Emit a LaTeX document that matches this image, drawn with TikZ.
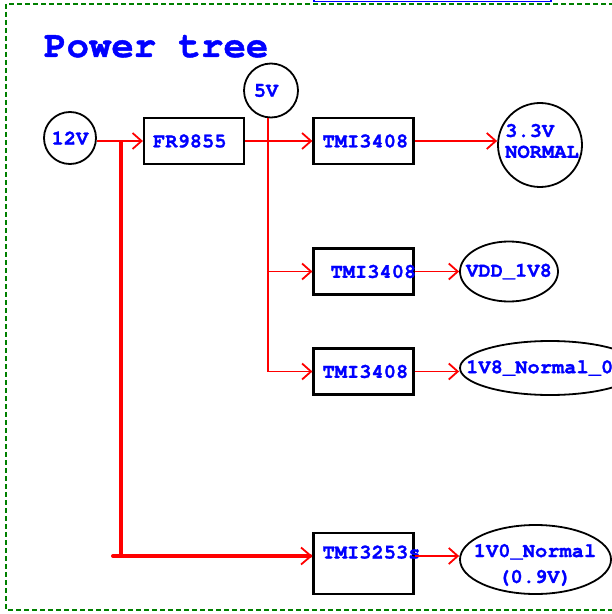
\documentclass[tikz,border=0pt]{standalone}
\usepackage{fontspec}
\setmonofont{texgyrecursor}[Extension=.otf, UprightFont=*-regular, BoldFont=*-bold, BoldFeatures={FakeBold=1.2}]
\usetikzlibrary{arrows.meta,shapes.geometric,calc}
\definecolor{dgreen}{RGB}{0,128,0}
\begin{document}
\begin{tikzpicture}[x=1bp,y=-1bp,
  lbl/.style={font=\ttfamily\bfseries\fontsize{20.5}{21}\selectfont, text=blue, inner sep=0pt},
  titlefont/.style={font=\ttfamily\bfseries\fontsize{37.5}{40}\selectfont, text=blue, inner sep=0pt},
  box/.style={lbl, draw=black, line width=2.2bp, minimum width=100bp, minimum height=46bp, text width=82bp, align=left},
  src/.style={lbl, draw=black, circle, line width=1.8bp},
  ell/.style={draw=black, ellipse, line width=1.8bp, inner sep=0pt},
  wire/.style={draw=red, line width=1.8bp},
  arr/.style={wire, -{Straight Barb[length=9bp,width=16bp]}},
  thickarr/.style={draw=red, line width=4bp, line cap=round, -{Straight Barb[length=10bp,width=17bp,line width=1.8bp]}},
]
\useasboundingbox (0,0) rectangle (612,614);
\begin{scope}
\clip (0,0) rectangle (612,614);
\draw[dgreen, line width=1.3bp, dash pattern=on 5bp off 3bp] (6,4) rectangle (680,610);
\draw[blue, line width=1.2bp] (314,-20) rectangle (551,1.5);

\node[titlefont, anchor=base west] (title) at (44,57) {Power tree};

\node[src, minimum size=52bp] (v12) at (70,138) {12V};
\node[box] (fr) at (194,141) {FR9855};
\node[src, minimum size=54bp] (v5) at (271,90.5) {5V\kern10bp};
\node[box] (b1) at (363.5,141) {TMI3408};
\node[ell, circle, minimum size=84bp] (c33) at (540,145) {};
\node[lbl, anchor=west, align=left] (t33) at (505,141) {3.3V\\NORMAL};
\node[box] (b2) at (363.5,271.5) {\hspace*{8bp}TMI3408};
\node[ell, minimum width=98bp, minimum height=60bp] (e2) at (509,271.5) {};
\node[lbl] (t2) at (e2) {VDD\_1V8};
\node[box] (b3) at (363.5,371.5) {TMI3408};
\node[ell, minimum width=180bp, minimum height=54bp] (e3) at (550,368) {};
\node[lbl, anchor=west] (t3) at (466,368) {1V8\_Normal\_0};
\node[box, minimum height=61bp] (b5) at (363.5,563.5) {\raisebox{5bp}[0pt][0pt]{TMI3253s}};
\node[ell, minimum width=151bp, minimum height=69bp] (e5) at (535.5,559.5) {};
\node[lbl, align=center, font=\ttfamily\bfseries\fontsize{20.5}{26}\selectfont] (t5) at (535,565) {1V0\_Normal\\(0.9V)};

\coordinate (j1) at (121,141);
\coordinate (j2) at (121,556);
\coordinate (j0) at (113,556);
\coordinate (k3) at (268,371.5);

\draw[arr] (fr.west -| v12.east) -- (fr.west);
\draw[arr] (fr.east) -- (b1.west);
\draw[arr] (k3 |- v5.south) -- (k3) -- (b3.west);
\draw[arr] (k3 |- b2.west) -- (b2.west);
\draw[arr] (b1.east) -- (b1.east -| c33.west);
\draw[arr] (b2.east) -- (e2.west);
\draw[arr] (b3.east) -- (b3.east -| e3.west);
\path (b5.east) ++(0,-7.5) coordinate (a5);
\draw[arr] (a5) -- (a5 -| e5.west);
\draw[red, line width=4bp] (j1) -- (j2);
\draw[thickarr] (j0) -- (j0 -| b5.west);
\end{scope}
\end{tikzpicture}
\end{document}
